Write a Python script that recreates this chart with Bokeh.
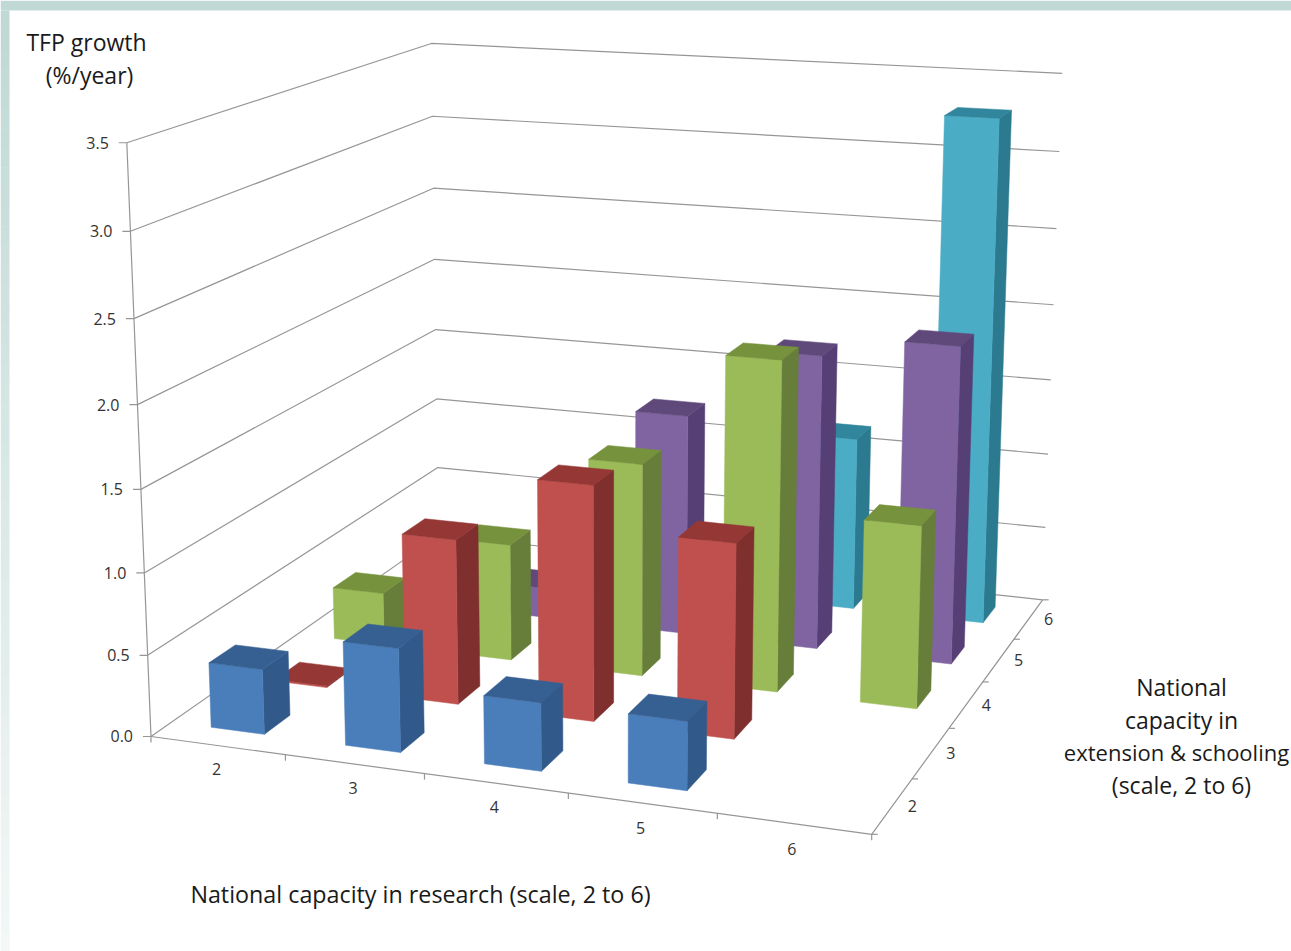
import numpy as np
from bokeh.core.properties import value
from bokeh.embed import file_html
from bokeh.models import ColumnDataSource
from bokeh.plotting import figure
from bokeh.resources import INLINE

# TFP growth (%/year) by national capacity in research (columns) and in
# extension & schooling (rows). None marks a combination with no bar.
research_levels = [2, 3, 4, 5, 6]
extension_levels = [2, 3, 4, 5, 6]
growth_ext_2 = [0.40, 0.63, 0.41, 0.41, None]
growth_ext_3 = [0.01, 1.03, 1.45, 1.19, None]
growth_ext_4 = [0.34, 0.75, 1.35, 2.07, 1.14]
growth_ext_5 = [None, 0.20, 1.44, 1.90, 2.03]
growth_ext_6 = [None, None, None, 1.15, 3.29]
growth_ticks = [0.0, 0.5, 1.0, 1.5, 2.0, 2.5, 3.0, 3.5]

rows = [growth_ext_2, growth_ext_3, growth_ext_4, growth_ext_5, growth_ext_6]
# front, right side, top
palette = [
    ("#4A7EBB", "#31598A", "#376092"),
    ("#C0504D", "#7F2F2D", "#953735"),
    ("#9BBB59", "#677D3A", "#76923C"),
    ("#8064A2", "#563F75", "#5F497A"),
    ("#4BACC6", "#2C7A8F", "#31859C"),
]

R0, R1 = 1.5, 6.5
E0, E1 = 1.5, 6.5
Z1 = 3.5
HALF = 0.2

# Camera calibration: where the corners of the plot box land on the page.
box_corners = [
    ((R0, E0, 0.0), (150, 736)),
    ((R1, E0, 0.0), (871, 834)),
    ((R1, E1, 0.0), (1042, 599)),
    ((R0, E1, 0.0), (439, 535)),
    ((R0, E0, Z1), (127, 142)),
    ((R0, E1, Z1), (430, 43)),
    ((R1, E1, Z1), (1062, 73)),
]


def solve_camera(pairs):
    a, b = [], []
    for (x, y, z), (px, py) in pairs:
        a.append([x, y, z, 1, 0, 0, 0, 0, -px * x, -px * y, -px * z])
        b.append(px)
        a.append([0, 0, 0, 0, x, y, z, 1, -py * x, -py * y, -py * z])
        b.append(py)
    sol = np.linalg.lstsq(np.array(a, float), np.array(b, float), rcond=None)[0]
    return np.append(sol, 1.0).reshape(3, 4)


CAM = solve_camera(box_corners)


def project(x, y, z):
    h = CAM @ np.array([x, y, z, 1.0])
    return float(h[0] / h[2]), float(h[1] / h[2])


def polyline(points):
    pts = [project(*q) for q in points]
    return [a for a, _ in pts], [b for _, b in pts]


p = figure(
    width=1291, height=951, x_range=(0, 1291), y_range=(951, 0),
    toolbar_location=None, output_backend="svg", min_border=0,
    border_fill_color="white", background_fill_color="white",
)
p.axis.visible = False
p.grid.visible = False
p.outline_line_color = None

# Slide frame: a flat band along the top and a fading band down the left edge.
steps = 48
edges = np.linspace(10, 951, steps + 1)
c0, c1 = np.array([192, 217, 213]), np.array([243, 248, 247])
left_colors = []
for t in np.linspace(0, 1, steps):
    c = (c0 + (c1 - c0) * t).astype(int)
    left_colors.append("#%02x%02x%02x" % tuple(c))
p.quad(left=0, right=9, top=edges[:-1], bottom=edges[1:] + 0.5,
       fill_color=left_colors, line_color=None)
p.quad(left=[0], right=[1291], top=[0], bottom=[10], fill_color="#C0D9D5", line_color=None)

GRID = "#969696"
grid_xs, grid_ys = [], []
for z in growth_ticks:
    xs, ys = polyline([(R0, E0, z), (R0, E1, z), (R1, E1, z)])
    grid_xs.append(xs)
    grid_ys.append(ys)
xs, ys = polyline([(R0, E0, 0), (R0, E0, Z1)])
grid_xs.append(xs)
grid_ys.append(ys)
xs, ys = polyline([(R0, E0, 0), (R1, E0, 0), (R1, E1, 0)])
grid_xs.append(xs)
grid_ys.append(ys)

# Tick marks on the three axes.
for z in growth_ticks:
    x0, y0 = project(R0, E0, z)
    grid_xs.append([x0 - 8, x0])
    grid_ys.append([y0, y0])
for k in range(len(research_levels) + 1):
    x0, y0 = project(R0 + k, E0, 0)
    grid_xs.append([x0, x0])
    grid_ys.append([y0, y0 + 6])
for k in range(len(extension_levels) + 1):
    x0, y0 = project(R1, E0 + k, 0)
    grid_xs.append([x0, x0 + 6])
    grid_ys.append([y0, y0])
p.multi_line(grid_xs, grid_ys, line_color=GRID, line_width=1.2)

# Bars, painted from the back row forward and left to right within a row.
fx, fy, fc = [], [], []
for j in reversed(range(len(rows))):
    e = extension_levels[j]
    for i, r in enumerate(research_levels):
        v = rows[j][i]
        if v is None:
            continue
        x0, x1 = r - HALF, r + HALF
        y0, y1 = e - HALF, e + HALF
        front, side, top = palette[j]
        faces = [
            ([(x1, y0, 0), (x1, y1, 0), (x1, y1, v), (x1, y0, v)], side),
            ([(x0, y0, 0), (x1, y0, 0), (x1, y0, v), (x0, y0, v)], front),
            ([(x0, y0, v), (x1, y0, v), (x1, y1, v), (x0, y1, v)], top),
        ]
        for quad, col in faces:
            a, b = polyline(quad)
            fx.append(a)
            fy.append(b)
            fc.append(col)
p.patches("xs", "ys", fill_color="color", line_color="color", line_width=0.5,
          source=ColumnDataSource(dict(xs=fx, ys=fy, color=fc)))

FONT = value("Open Sans")
TICK = "#333333"
TITLE = "#1A1A1A"

for z in growth_ticks:
    x0, y0 = project(R0, E0, z)
    p.text([x0 - 18], [y0], text=["%.1f" % z], text_font=FONT, text_font_size="16px",
           text_color=TICK, text_align="right", text_baseline="middle")
for k, r in enumerate(research_levels):
    u = k / (len(research_levels) - 1)
    x0, y0 = project(r, E0, 0)
    p.text([x0 - 1 - u], [y0 + 23 + 2 * u], text=[str(r)], text_font=FONT, text_font_size="16px",
           text_color=TICK, text_align="center", text_baseline="middle")
for e in extension_levels:
    x0, y0 = project(R1, e, 0)
    p.text([x0 + 20], [y0], text=[str(e)], text_font=FONT, text_font_size="16px",
           text_color=TICK, text_align="center", text_baseline="middle")

titles = [
    ("TFP growth", 86, 41, "23px"),
    ("(%/year)", 89, 74, "23px"),
    ("National capacity in research (scale, 2 to 6)", 420, 893, "23.3px"),
    ("National", 1181, 686, "23px"),
    ("capacity in", 1181, 719, "23px"),
    # The longest line is set a touch smaller so it stays inside the page.
    ("extension & schooling", 1176, 751, "22px"),
    ("(scale, 2 to 6)", 1181, 784, "23px"),
]
for label, tx, ty, size in titles:
    p.text([tx], [ty], text=[label], text_font=FONT, text_font_size=size,
           text_color=TITLE, text_align="center", text_baseline="middle")

open("out.html", "w").write(file_html(p, INLINE))
